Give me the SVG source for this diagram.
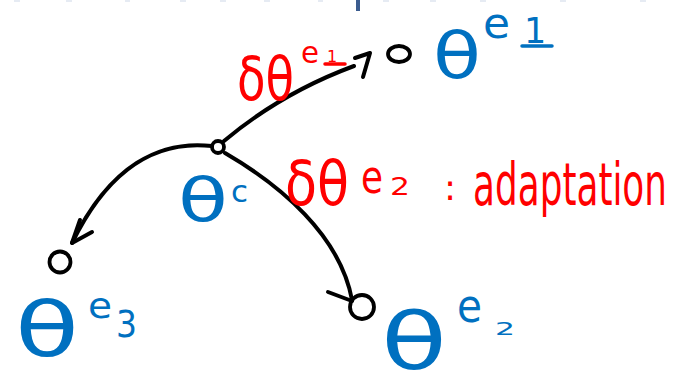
<svg xmlns="http://www.w3.org/2000/svg" width="673" height="372" viewBox="0 0 673 372">
<style>
.ink{fill:none;stroke:#000;stroke-width:4;stroke-linecap:round;stroke-linejoin:round}
.node{fill:none;stroke:#000;stroke-width:3.8}
.blue{fill:#0070c0;font-family:"DejaVu Sans",sans-serif}
.red{fill:#ff0000;font-family:"DejaVu Sans",sans-serif}
.bline{stroke:#0070c0;stroke-width:3.5;stroke-linecap:round}
.rline{stroke:#ff0000;stroke-width:3.5;stroke-linecap:round}
.faint{fill:#e6ebf3}
</style>
<rect width="673" height="372" fill="#fff"/>
<g id="title-remnant">
<rect class="faint" x="14" y="0" width="6" height="2"/>
<rect class="faint" x="66" y="0" width="6" height="2"/>
<rect class="faint" x="125" y="0" width="5" height="2"/>
<rect class="faint" x="180" y="0" width="6" height="2"/>
<rect class="faint" x="220" y="0" width="6" height="2"/>
<rect class="faint" x="264" y="0" width="6" height="2"/>
<rect class="faint" x="318" y="0" width="5" height="2"/>
<rect class="faint" x="383" y="0" width="6" height="2"/>
<rect class="faint" x="430" y="0" width="6" height="2"/>
<rect class="faint" x="480" y="0" width="6" height="2"/>
<rect class="faint" x="560" y="0" width="6" height="2"/>
<rect class="faint" x="640" y="0" width="6" height="2"/>
<rect x="356" y="0" width="4" height="11" fill="#3b5c8f"/>
</g>
<g id="connectors">
<path class="ink" d="M224,141 C255,115 300,86 354,66"/>
<path class="ink" d="M355,58 L370,53 L363,77"/>
<path class="ink" d="M212,146 C160,140 110,165 72,243"/>
<path class="ink" d="M80,220 L72,243 L92,232"/>
<path class="ink" d="M225,153 C280,185 340,235 352,300"/>
<path class="ink" d="M328,292 L352,301"/>
</g>
<g id="node-c">
<circle class="node" cx="218" cy="147" r="6"/>
<text class="blue" x="178" y="221" font-size="60" textLength="50" lengthAdjust="spacingAndGlyphs">θ</text>
<text class="blue" x="231" y="202" font-size="31">c</text>
</g>
<g id="node-e1">
<ellipse class="node" cx="399" cy="54" rx="11" ry="8"/>
<text class="blue" x="433" y="78" font-size="64" textLength="48" lengthAdjust="spacingAndGlyphs">θ</text>
<text class="blue" x="483" y="38" font-size="42" textLength="27" lengthAdjust="spacingAndGlyphs">e</text>
<text class="blue" x="524" y="43" font-size="35">1</text>
<line class="bline" x1="522" y1="46" x2="552" y2="46"/>
</g>
<g id="node-e3">
<circle class="node" cx="60" cy="262" r="10.5"/>
<text class="blue" x="15" y="356" font-size="76" textLength="64" lengthAdjust="spacingAndGlyphs">θ</text>
<text class="blue" x="88" y="318" font-size="36" textLength="24" lengthAdjust="spacingAndGlyphs">e</text>
<text class="blue" x="116" y="337" font-size="37" textLength="21" lengthAdjust="spacingAndGlyphs">3</text>
</g>
<g id="node-e2">
<circle class="node" cx="362" cy="307" r="12"/>
<text class="blue" x="381" y="369" font-size="78" textLength="66" lengthAdjust="spacingAndGlyphs">θ</text>
<text class="blue" x="457" y="322" font-size="46" textLength="25" lengthAdjust="spacingAndGlyphs">e</text>
<text class="blue" x="495" y="335" font-size="18" textLength="20" lengthAdjust="spacingAndGlyphs">2</text>
</g>
<g id="label-e1">
<text class="red" x="237" y="100" font-size="60" textLength="57" lengthAdjust="spacingAndGlyphs">δθ</text>
<text class="red" x="301" y="63" font-size="30" textLength="18" lengthAdjust="spacingAndGlyphs">e</text>
<text class="red" x="327" y="62" font-size="16">1</text>
<line class="rline" x1="325" y1="64" x2="345" y2="64"/>
</g>
<g id="label-e2">
<text class="red" x="285" y="205" font-size="62" textLength="64" lengthAdjust="spacingAndGlyphs">δθ</text>
<text class="red" x="361" y="193" font-size="46" textLength="22" lengthAdjust="spacingAndGlyphs">e</text>
<text class="red" x="390" y="195" font-size="24" textLength="20" lengthAdjust="spacingAndGlyphs">2</text>
<text class="red" x="444" y="200" font-size="36">:</text>
<text class="red" x="473" y="205" font-size="58" textLength="194" lengthAdjust="spacingAndGlyphs">adaptation</text>
</g>
</svg>
